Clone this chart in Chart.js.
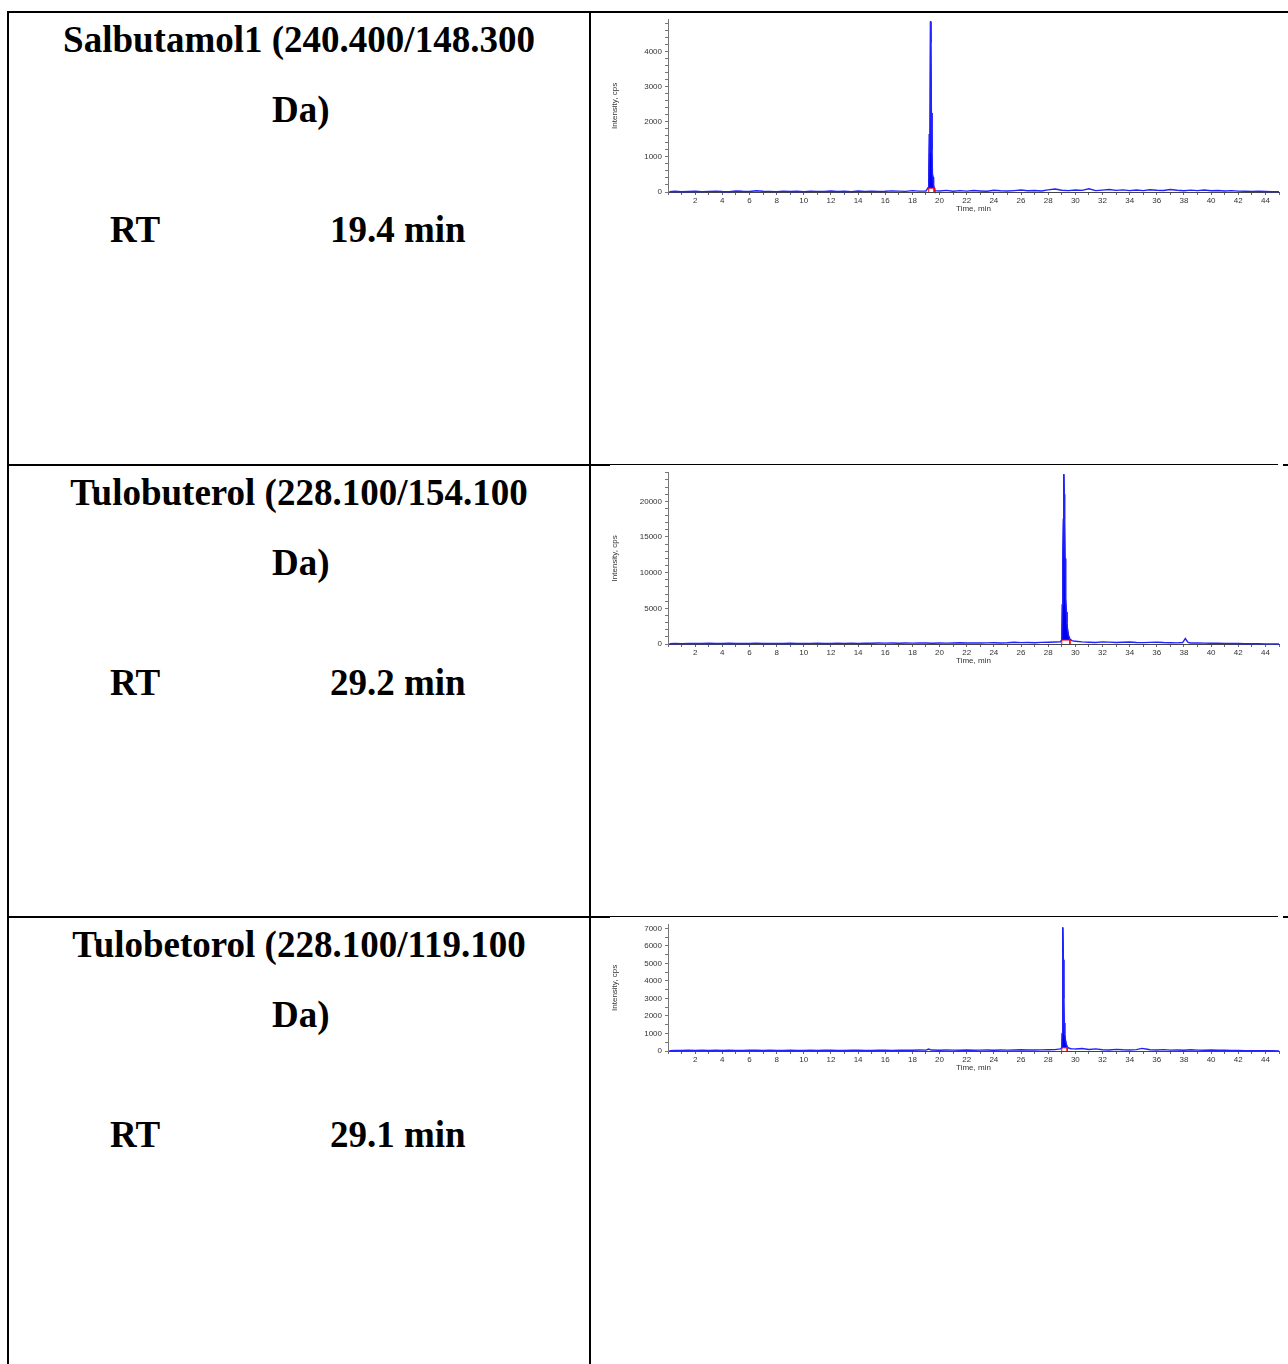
<!DOCTYPE html>
<html>
<head>
<meta charset="utf-8">
<script src="https://cdn.jsdelivr.net/npm/chart.js@4.4.0/dist/chart.umd.min.js"></script>
<style>
  body { margin: 0; background: #fff; }
  #page { position: relative; width: 1288px; height: 1364px; overflow: hidden; font-family: 'Liberation Serif', 'Times New Roman', serif; }
  .rule { position: absolute; background: #000; }
  .txt { position: absolute; font-weight: bold; font-size: 37px; line-height: 40px; white-space: nowrap; color: #000; }
  .plot { position: absolute; left: 592px; width: 696px; }
</style>
</head>
<body>
<div id="page"></div>
<script>
// left column texts
const compoundNames = ['Salbutamol1 (240.400/148.300', 'Tulobuterol (228.100/154.100', 'Tulobetorol (228.100/119.100'];
const retentionTimes = ['19.4 min', '29.2 min', '29.1 min'];

// Salbutamol1 trace
const salbTime = [
  0.1, 0.5, 1.0, 1.5, 2.0, 2.5, 3.0, 3.5, 4.0, 4.5,
  5.0, 5.5, 6.0, 6.5, 7.0, 7.5, 8.0, 8.5, 9.0, 9.5,
  10.0, 10.5, 11.0, 11.5, 12.0, 12.5, 13.0, 13.5, 14.0, 14.5,
  15.0, 15.5, 16.0, 16.5, 17.0, 17.5, 18.0, 18.5, 19.0, 19.15,
  19.2, 19.25, 19.29, 19.33, 19.36, 19.4, 19.44, 19.48, 19.52, 19.56,
  19.6, 19.65, 19.7, 20.0, 20.5, 21.0, 21.5, 22.0, 22.5, 23.0,
  23.5, 24.0, 24.5, 25.0, 25.5, 26.0, 26.5, 27.0, 27.5, 28.0,
  28.5, 29.0, 29.5, 30.0, 30.5, 31.0, 31.5, 32.0, 32.5, 33.0,
  33.5, 34.0, 34.5, 35.0, 35.5, 36.0, 36.5, 37.0, 37.5, 38.0,
  38.5, 39.0, 39.5, 40.0, 40.5, 41.0, 41.5, 42.0, 42.5, 43.0,
  43.5, 44.0, 44.5, 45.0
];
const salbInt = [
  12, 20, 8, 15, 22, 10, 18, 25, 14, 9,
  30, 20, 16, 35, 22, 18, 12, 26, 15, 20,
  10, 24, 18, 14, 28, 16, 22, 12, 30, 18,
  25, 14, 20, 32, 24, 18, 40, 26, 30, 120,
  300, 1650, 1100, 4850, 4250, 2250, 1200, 500, 420, 200,
  120, 60, 40, 30, 45, 20, 38, 25, 42, 30,
  22, 48, 35, 28, 40, 55, 36, 44, 30, 62,
  85, 50, 40, 58, 45, 90, 38, 52, 70, 45,
  60, 40, 55, 38, 62, 50, 44, 70, 48, 36,
  52, 40, 58, 35, 44, 30, 40, 25, 22, 18,
  20, 15, 12, 10
];
const salbPeak = [19.2, 19.6];
const salbBase = 110;

// Tulobuterol trace
const tuloTime = [
  0.1, 0.5, 1.0, 1.5, 2.0, 2.5, 3.0, 3.5, 4.0, 4.5,
  5.0, 5.5, 6.0, 6.5, 7.0, 7.5, 8.0, 8.5, 9.0, 9.5,
  10.0, 10.5, 11.0, 11.5, 12.0, 12.5, 13.0, 13.5, 14.0, 14.5,
  15.0, 15.5, 16.0, 16.5, 17.0, 17.5, 18.0, 18.5, 19.0, 19.5,
  20.0, 20.5, 21.0, 21.5, 22.0, 22.5, 23.0, 23.5, 24.0, 24.5,
  25.0, 25.5, 26.0, 26.5, 27.0, 27.5, 28.0, 28.5, 28.9, 29.0,
  29.04, 29.08, 29.12, 29.15, 29.18, 29.21, 29.24, 29.27, 29.3, 29.34,
  29.38, 29.43, 29.5, 29.6, 29.75, 29.9, 30.0, 30.5, 31.0, 31.5,
  32.0, 32.5, 33.0, 33.5, 34.0, 34.5, 35.0, 35.5, 36.0, 36.5,
  37.0, 37.5, 37.9, 38.1, 38.3, 38.5, 39.0, 39.5, 40.0, 40.5,
  41.0, 41.5, 42.0, 42.5, 43.0, 43.5, 44.0, 44.5, 45.0
];
const tuloInt = [
  40, 60, 50, 70, 90, 60, 110, 80, 70, 100,
  60, 90, 80, 120, 70, 90, 60, 80, 100, 70,
  60, 90, 110, 80, 70, 100, 90, 120, 80, 110,
  100, 130, 120, 150, 110, 140, 120, 160, 130, 110,
  150, 120, 140, 170, 130, 150, 140, 160, 180, 150,
  170, 250, 190, 210, 180, 230, 250, 280, 300, 600,
  5500, 12000, 17500, 23800, 21000, 17500, 12000, 9000, 6500, 4500,
  3000, 2000, 1200, 700, 480, 400, 380, 300, 250, 220,
  300, 260, 200, 240, 280, 220, 190, 230, 250, 200,
  180, 160, 200, 760, 220, 150, 130, 120, 110, 100,
  90, 80, 60, 40, 30, 25, 20, 15, 10
];
const tuloPeak = [29.0, 29.6];
const tuloBase = 550;

// Tulobetorol trace
const betoTime = [
  0.1, 0.5, 1.0, 1.5, 2.0, 2.5, 3.0, 3.5, 4.0, 4.5,
  5.0, 5.5, 6.0, 6.5, 7.0, 7.5, 8.0, 8.5, 9.0, 9.5,
  10.0, 10.5, 11.0, 11.5, 12.0, 12.5, 13.0, 13.5, 14.0, 14.5,
  15.0, 15.5, 16.0, 16.5, 17.0, 17.5, 18.0, 18.5, 19.0, 19.2,
  19.4, 20.0, 20.5, 21.0, 21.5, 22.0, 22.5, 23.0, 23.5, 24.0,
  24.5, 25.0, 25.5, 26.0, 26.5, 27.0, 27.5, 28.0, 28.5, 28.9,
  29.0, 29.03, 29.06, 29.09, 29.12, 29.15, 29.18, 29.22, 29.27, 29.33,
  29.4, 29.5, 29.7, 29.9, 30.0, 30.5, 31.0, 31.5, 32.0, 32.5,
  33.0, 33.5, 34.0, 34.5, 34.9, 35.3, 35.5, 36.0, 36.5, 37.0,
  37.5, 38.0, 38.5, 39.0, 39.5, 40.0, 40.5, 41.0, 41.5, 42.0,
  42.5, 43.0, 43.5, 44.0, 44.5, 45.0
];
const betoInt = [
  20, 30, 25, 40, 35, 50, 30, 45, 25, 40,
  30, 35, 50, 40, 30, 45, 35, 25, 40, 30,
  35, 45, 30, 40, 50, 35, 30, 45, 40, 35,
  30, 40, 45, 35, 50, 40, 45, 60, 50, 110,
  55, 45, 60, 50, 40, 55, 45, 50, 60, 45,
  55, 50, 60, 70, 55, 60, 65, 70, 80, 120,
  200, 1000, 5500, 7050, 5200, 3000, 1600, 1000, 650, 400,
  250, 170, 130, 120, 110, 140, 90, 120, 70, 60,
  90, 70, 60, 80, 150, 100, 70, 60, 80, 50,
  60, 45, 70, 50, 40, 55, 45, 40, 35, 30,
  20, 15, 18, 12, 10, 8
];
const betoPeak = [29.0, 29.4];
const betoBase = 180;

// y axes: top of range, minor tick step, labelled tick step
const yMaxes = [4900, 24000, 7200];
const yMinorSteps = [200, 1000, 500];
const yMajorSteps = [1000, 5000, 1000];

const page = document.getElementById('page');

function addRule(x, y, w, h) {
    const d = document.createElement('div');
    d.className = 'rule';
    Object.assign(d.style, { left: x + 'px', top: y + 'px', width: w + 'px', height: h + 'px' });
    page.appendChild(d);
}

function addText(str, x, y, center) {
    const d = document.createElement('div');
    d.className = 'txt';
    d.textContent = str;
    if (center) {
        d.style.left = '8px';
        d.style.width = '582px';
        d.style.textAlign = 'center';
    } else {
        d.style.left = x + 'px';
    }
    d.style.top = y + 'px';
    page.appendChild(d);
}

// table borders
addRule(7, 11, 1281, 2);
addRule(7, 11, 2, 1353);
addRule(589, 11, 2, 1353);
[464, 916].forEach(y => {
    addRule(7, y, 603, 2);
    addRule(610, y, 1278 - 610, 1);
    addRule(1283, y, 5, 2);
});

const rowTops = [11, 464, 916];
rowTops.forEach((top, i) => {
    addText(compoundNames[i], 0, top + 9, true);
    addText('Da)', 272, top + 79, false);
    addText('RT', 110, top + 199, false);
    addText(retentionTimes[i], 330, top + 199, false);
});

const plotBoxes = [
    { top: 12, height: 210, padTop: 6, padBottom: 6 },
    { top: 465, height: 210, padTop: 5, padBottom: 7 },
    { top: 917, height: 164, padTop: 4, padBottom: 6 }
];
const traces = [
    { time: salbTime, value: salbInt, peak: salbPeak, base: salbBase },
    { time: tuloTime, value: tuloInt, peak: tuloPeak, base: tuloBase },
    { time: betoTime, value: betoInt, peak: betoPeak, base: betoBase }
];

const tickFont = { family: "'Liberation Sans Narrow', 'Liberation Sans', Arial, sans-serif", size: 8 };

traces.forEach((tr, i) => {
    const box = plotBoxes[i];
    const canvas = document.createElement('canvas');
    canvas.className = 'plot';
    canvas.style.top = box.top + 'px';
    canvas.style.height = box.height + 'px';
    canvas.width = 696;
    canvas.height = box.height;
    page.appendChild(canvas);

    const points = tr.time.map((t, k) => ({ x: t, y: tr.value[k] }));
    const peakPoints = points.filter(p => p.x >= tr.peak[0] && p.x <= tr.peak[1]);
    // integration baseline under the peak
    const redLine = [
        { x: tr.peak[0], y: 0 },
        { x: tr.peak[0], y: tr.base },
        { x: tr.peak[1], y: tr.base },
        { x: tr.peak[1], y: 0 }
    ];

    new Chart(canvas.getContext('2d'), {
        type: 'line',
        data: {
            datasets: [
                { data: redLine, borderColor: '#ff0000', borderWidth: 1, pointRadius: 0, fill: false, order: 0 },
                { data: points, borderColor: '#2222ff', borderWidth: 1.4, pointRadius: 0, fill: false, order: 1, clip: 3 },
                { data: peakPoints, borderColor: '#0000ee', borderWidth: 1, pointRadius: 0,
                  backgroundColor: '#0000ee', fill: { value: tr.base }, order: 2 }
            ]
        },
        options: {
            responsive: false,
            animation: false,
            events: [],
            layout: { padding: { top: box.padTop, bottom: box.padBottom, left: 0, right: 9 } },
            plugins: { legend: { display: false }, tooltip: { enabled: false } },
            elements: { line: { tension: 0 } },
            scales: {
                x: {
                    type: 'linear', min: 0, max: 45,
                    afterFit: s => { s.height = 24; },
                    border: { color: '#444', width: 1 },
                    grid: { drawOnChartArea: false, tickLength: 3, color: '#666' },
                    ticks: {
                        stepSize: 1, autoSkip: false, maxRotation: 0, includeBounds: false,
                        padding: 1, font: tickFont, color: '#333',
                        callback: v => (Math.round(v) % 2 === 0 && v > 0) ? String(Math.round(v)) : ''
                    },
                    title: { display: true, text: 'Time, min', font: tickFont, color: '#333', padding: { top: 0, bottom: 2 } }
                },
                y: {
                    type: 'linear', min: 0, max: yMaxes[i],
                    afterFit: s => { s.width = 76; },
                    afterBuildTicks: s => {
                        const list = [];
                        for (let v = 0; v <= yMaxes[i]; v += yMinorSteps[i]) list.push({ value: v });
                        s.ticks = list;
                    },
                    border: { color: '#777', width: 1 },
                    grid: { drawOnChartArea: false, tickLength: 3, color: '#777' },
                    ticks: {
                        autoSkip: false,
                        padding: 3, font: tickFont, color: '#333',
                        callback: v => (v % yMajorSteps[i] === 0) ? String(v) : ''
                    },
                    title: { display: true, text: 'Intensity, cps', font: tickFont, color: '#333', padding: { top: 18, bottom: 0 } }
                }
            }
        }
    });
});
</script>
</body>
</html>
